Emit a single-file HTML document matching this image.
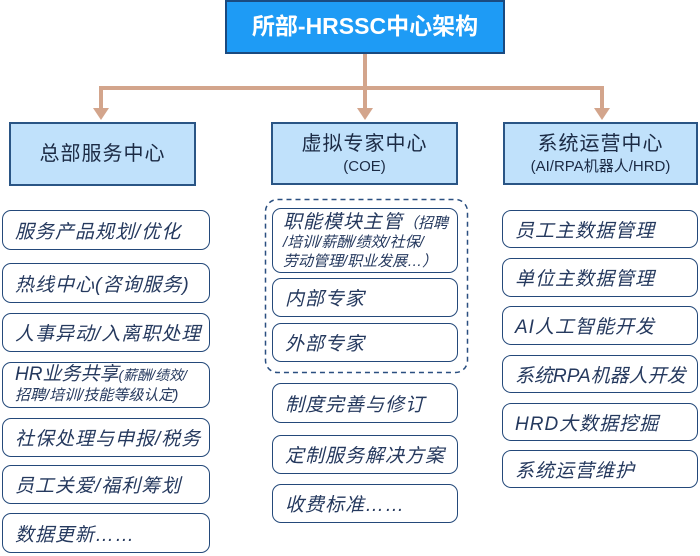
<!DOCTYPE html>
<html><head><meta charset="utf-8"><style>
body{margin:0;width:700px;height:556px;background:#fff;position:relative;overflow:hidden;font-family:"Liberation Sans","Noto Sans CJK SC",sans-serif;}
.b{position:absolute;box-sizing:border-box;border:1.5px solid #24497a;border-radius:9px;color:#25395e;font-style:italic;font-size:19px;letter-spacing:1px;padding-left:12px;display:flex;align-items:center;white-space:nowrap;}
.h{position:absolute;box-sizing:border-box;background:#c0e1fb;border:2px solid #2a5585;color:#1b2a44;text-align:center;display:flex;flex-direction:column;justify-content:center;font-size:20px;letter-spacing:1px;line-height:1.3;}
.s{font-size:15px;letter-spacing:0}
</style></head><body>
<div class="h" style="left:225px;top:0;width:280px;height:54px;background:#1e9bf5;border-color:#1a4a80;color:#fff;font-weight:bold;font-size:23px;letter-spacing:0;">所部-HRSSC中心架构</div>
<svg width="700" height="556" style="position:absolute;left:0;top:0">
<g stroke="#d3a58c" stroke-width="4" fill="none">
<path d="M365 54V110M101 88H602M101 86V110M602 86V110"/></g>
<g fill="#d3a58c"><path d="M93 108h16l-8 12z"/><path d="M357 108h16l-8 12z"/><path d="M594 108h16l-8 12z"/></g>
<rect x="265.5" y="199.5" width="202" height="173" rx="12" fill="none" stroke="#2a4f80" stroke-width="1.5" stroke-dasharray="5,4"/>
</svg>
<div class="h" style="left:9px;top:122px;width:187px;height:64px;">总部服务中心</div>
<div class="h" style="left:271px;top:122px;width:187px;height:63px;">虚拟专家中心<span class="s">(COE)</span></div>
<div class="h" style="left:503px;top:122px;width:195px;height:63px;">系统运营中心<span class="s">(AI/RPA机器人/HRD)</span></div>

<div class="b" style="left:2px;top:210px;width:208px;height:40px;">服务产品规划/优化</div>
<div class="b" style="left:2px;top:263px;width:208px;height:40px;">热线中心(咨询服务)</div>
<div class="b" style="left:2px;top:313px;width:208px;height:39px;">人事异动/入离职处理</div>
<div class="b" style="left:2px;top:362px;width:208px;height:46px;display:block;padding-top:2px;line-height:20px;letter-spacing:0;">HR业务共享<span style="font-size:14px">(薪酬/绩效/</span><br><span style="font-size:15px">招聘/培训/技能等级认定)</span></div>
<div class="b" style="left:2px;top:418px;width:208px;height:39px;">社保处理与申报/税务</div>
<div class="b" style="left:2px;top:465px;width:208px;height:39px;">员工关爱/福利筹划</div>
<div class="b" style="left:2px;top:513px;width:208px;height:40px;">数据更新……</div>

<div class="b" style="left:272px;top:208px;width:186px;height:65px;display:block;padding-top:4px;line-height:19px;font-size:15px;letter-spacing:0;padding-left:10px;"><span style="font-size:19px;letter-spacing:1px">职能模块主管</span>（招聘<br>/培训/薪酬/绩效/社保/<br>劳动管理/职业发展…）</div>
<div class="b" style="left:272px;top:278px;width:186px;height:39px;">内部专家</div>
<div class="b" style="left:272px;top:323px;width:186px;height:39px;">外部专家</div>
<div class="b" style="left:272px;top:383px;width:186px;height:40px;">制度完善与修订</div>
<div class="b" style="left:272px;top:435px;width:186px;height:39px;">定制服务解决方案</div>
<div class="b" style="left:272px;top:484px;width:186px;height:39px;">收费标准……</div>

<div class="b" style="left:502px;top:210px;width:196px;height:38px;">员工主数据管理</div>
<div class="b" style="left:502px;top:258px;width:196px;height:39px;">单位主数据管理</div>
<div class="b" style="left:502px;top:306px;width:196px;height:39px;">AI人工智能开发</div>
<div class="b" style="left:502px;top:355px;width:196px;height:38px;letter-spacing:0;">系统RPA机器人开发</div>
<div class="b" style="left:502px;top:403px;width:196px;height:38px;">HRD大数据挖掘</div>
<div class="b" style="left:502px;top:450px;width:196px;height:38px;">系统运营维护</div>
</body></html>
